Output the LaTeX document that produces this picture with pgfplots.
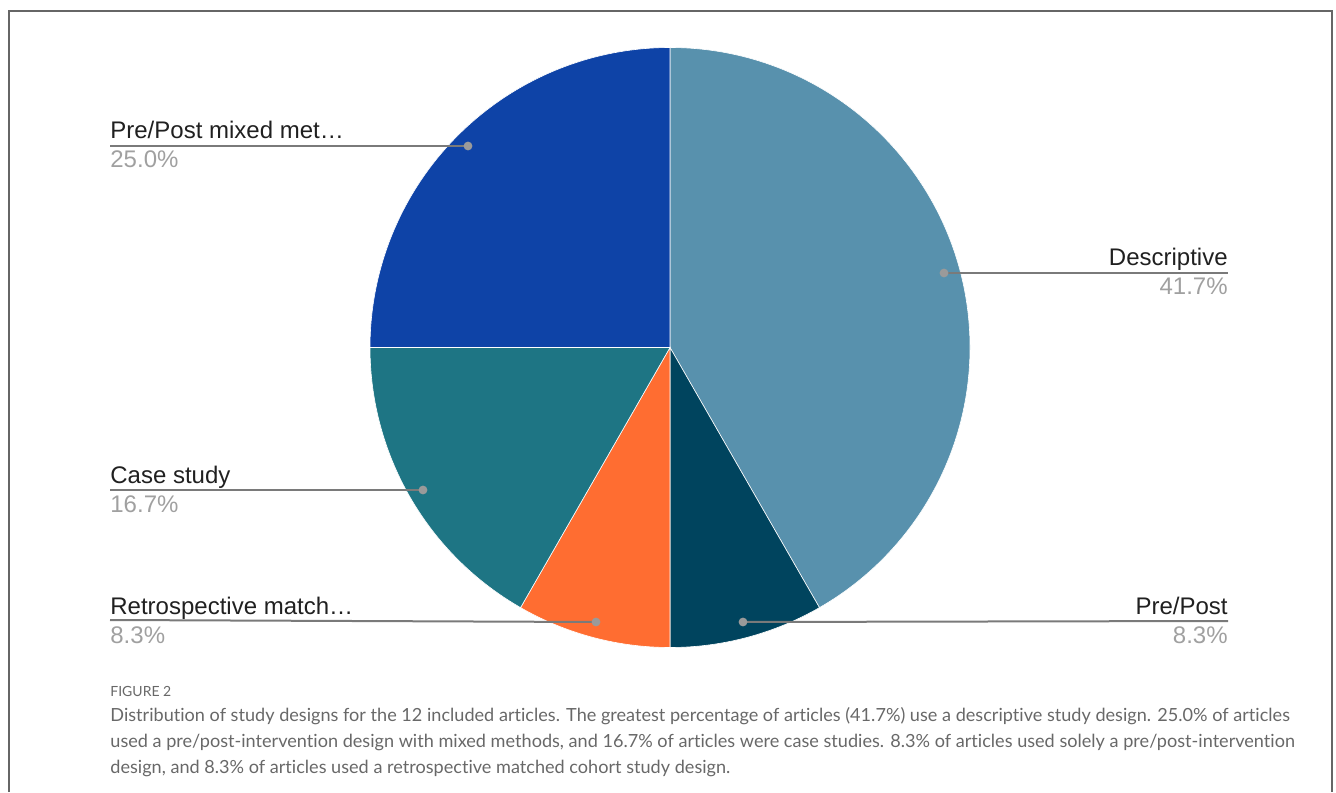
\documentclass[border=0pt]{standalone}
\usepackage{pgfplots}
\pgfplotsset{compat=1.18}
\usepackage{fontspec}
\setmainfont{Liberation Sans}
\newfontfamily\capfont[Ligatures=NoCommon]{Lato}
\definecolor{cDesc}{HTML}{5891AD}
\definecolor{cPP}{HTML}{00445E}
\definecolor{cRetro}{HTML}{FF6D31}
\definecolor{cCase}{HTML}{1E7584}
\definecolor{cMix}{HTML}{0E43A7}
\definecolor{cLine}{HTML}{7A7A7A}
\definecolor{cDot}{HTML}{9A9A9A}
\definecolor{cPct}{HTML}{A0A0A0}
\definecolor{cLab}{HTML}{202020}
\definecolor{cCap}{HTML}{686868}
\definecolor{cFrame}{HTML}{666666}
\tikzset{lab/.style={font=\fontsize{12}{14}\selectfont,text=cLab,inner sep=0pt},
         pct/.style={font=\fontsize{12}{14}\selectfont,text=cPct,inner sep=0pt},
         captxt/.style={font=\capfont\fontsize{9.05}{11}\selectfont,text=cCap,inner sep=0pt,anchor=base west}}
\begin{document}
\begin{tikzpicture}[x=0.5pt,y=0.5pt]
\path (0,0) rectangle (1336,792);
\begin{axis}[at={(0,0)},anchor=south west,scale only axis,
  width=668pt,height=396pt,xmin=0,xmax=1336,ymin=0,ymax=792,
  hide axis,clip=false]
% pie slices: percentages 41.7, 8.3, 8.3, 16.7, 25.0 clockwise from 12 o'clock
\fill[cDesc,draw=white,line width=0.3pt] (axis cs:670,444.5) -- ++(90:150pt) arc[start angle=90,end angle={90-41.7*3.6},radius=150pt] -- cycle;
\fill[cPP,draw=white,line width=0.3pt] (axis cs:670,444.5) -- ++({90-41.7*3.6}:150pt) arc[start angle={90-41.7*3.6},end angle={90-50.0*3.6},radius=150pt] -- cycle;
\fill[cRetro,draw=white,line width=0.3pt] (axis cs:670,444.5) -- ++({90-50.0*3.6}:150pt) arc[start angle={90-50.0*3.6},end angle={90-58.3*3.6},radius=150pt] -- cycle;
\fill[cCase,draw=white,line width=0.3pt] (axis cs:670,444.5) -- ++({90-58.3*3.6}:150pt) arc[start angle={90-58.3*3.6},end angle={90-75.0*3.6},radius=150pt] -- cycle;
\fill[cMix,draw=white,line width=0.3pt] (axis cs:670,444.5) -- ++({90-75.0*3.6}:150pt) arc[start angle={90-75.0*3.6},end angle={90-100.0*3.6},radius=150pt] -- cycle;
% leader lines
\draw[cLine,line width=1pt] (axis cs:468,646) -- (axis cs:110,646);
\draw[cLine,line width=1pt] (axis cs:944,519) -- (axis cs:1228,519);
\draw[cLine,line width=1pt] (axis cs:423,302) -- (axis cs:110,302);
\draw[cLine,line width=1pt] (axis cs:596,170) -- (axis cs:110,172);
\draw[cLine,line width=1pt] (axis cs:743,170) -- (axis cs:1228,171);
\fill[cDot] (axis cs:468,646) circle[radius=2.2pt];
\fill[cDot] (axis cs:944,519) circle[radius=2.2pt];
\fill[cDot] (axis cs:423,302) circle[radius=2.2pt];
\fill[cDot] (axis cs:596,170) circle[radius=2.2pt];
\fill[cDot] (axis cs:743,170) circle[radius=2.2pt];
% labels
\node[lab,anchor=base west] at (axis cs:110,653) {Pre/Post mixed met\ldots};
\node[pct,anchor=base west] at (axis cs:110,624) {25.0\%};
\node[lab,anchor=base east] at (axis cs:1228,526) {Descriptive};
\node[pct,anchor=base east] at (axis cs:1228,497) {41.7\%};
\node[lab,anchor=base west] at (axis cs:110,309) {Case study};
\node[pct,anchor=base west] at (axis cs:110,280) {16.7\%};
\node[lab,anchor=base west] at (axis cs:110,178) {Retrospective match\ldots};
\node[pct,anchor=base west] at (axis cs:110,149) {8.3\%};
\node[lab,anchor=base east] at (axis cs:1228,178) {Pre/Post};
\node[pct,anchor=base east] at (axis cs:1228,149) {8.3\%};
% caption
\node[captxt,font=\capfont\fontsize{7}{8}\selectfont] at (axis cs:110,96) {FIGURE 2};
\node[captxt] at (axis cs:110,71) {Distribution of study designs for the 12 included articles. The greatest percentage of articles (41.7\%) use a descriptive study design. 25.0\% of articles};
\node[captxt] at (axis cs:110,45) {used a pre/post-intervention design with mixed methods, and 16.7\% of articles were case studies. 8.3\% of articles used solely a pre/post-intervention};
\node[captxt] at (axis cs:110,19) {design, and 8.3\% of articles used a retrospective matched cohort study design.};
% frame
\draw[cFrame,line width=0.8pt] (axis cs:9,0) -- (axis cs:9,781) -- (axis cs:1332,781) -- (axis cs:1332,0);
\end{axis}
\end{tikzpicture}
\end{document}
